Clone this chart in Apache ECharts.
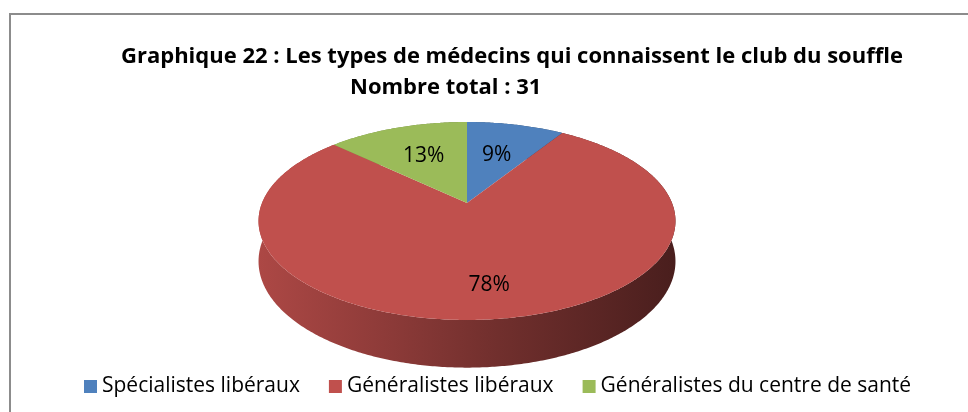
<!DOCTYPE html>
<html>
<head>
<meta charset="utf-8">
<script src="https://cdn.jsdelivr.net/npm/echarts@6/dist/echarts.min.js"></script>
<style>
    html, body { margin: 0; padding: 0; background: #fff; }
    #main { width: 968px; height: 412px; }
</style>
</head>
<body>
<div id="main"></div>
<script>
// data
var categories = ['Spécialistes libéraux', 'Généralistes libéraux', 'Généralistes du centre de santé'];
var percents = [9, 78, 13];
var colors = ['#4f81bd', '#c0504d', '#9bbb59'];
var titleLine1 = 'Graphique 22 : Les types de médecins qui connaissent le club du souffle';
var titleLine2 = 'Nombre total : 31';

// 3d pie geometry (excel look, light perspective)
var cx = 467, cy = 203, rx = 205, ryB = 58.8, persp = -0.1818, depth = 39;
var FONT = '"Open Sans"';

var total = percents.reduce(function (a, b) { return a + b; }, 0);
var starts = [];
var acc = 0;
percents.forEach(function (v) {
    starts.push(acc / total * Math.PI * 2);
    acc += v;
});

// darker shade of a #rrggbb colour, f = 0..1 (kept part)
function shade(hex, f) {
    var c = parseInt(hex.slice(1), 16);
    var r = Math.round(((c >> 16) & 255) * f);
    var g = Math.round(((c >> 8) & 255) * f);
    var b = Math.round((c & 255) * f);
    return 'rgb(' + r + ',' + g + ',' + b + ')';
}

// ang: clockwise from top, radians ; r: 0..1 ; drop: px down (side wall)
function project(ang, r, drop) {
    var u = Math.sin(ang) * r;
    var w = -Math.cos(ang) * r;
    var d = 1 + persp * w;
    return [cx + rx * u / d, (cy + drop + ryB * w) / d];
}

function renderSlice(params, api) {
    var i = params.seriesIndex;
    var val = api.value(0);
    var a0 = starts[i];
    var a1 = a0 + val / total * Math.PI * 2;
    var n = Math.max(2, Math.ceil((a1 - a0) / 0.01));
    var rim = [], low = [];
    for (var k = 0; k <= n; k++) {
        var a = a0 + (a1 - a0) * k / n;
        rim.push(project(a, 1, 0));
        low.push(project(a, 1, depth));
    }
    var base = colors[i];
    var wallFill = new echarts.graphic.LinearGradient(cx - rx - 5, 0, cx + rx + 5, 0, [
        { offset: 0, color: shade(base, 0.9) },
        { offset: 0.3, color: shade(base, 0.74) },
        { offset: 0.55, color: shade(base, 0.6) },
        { offset: 1, color: shade(base, 0.38) }
    ], true);

    var mid = (a0 + a1) / 2;
    var lp = project(mid, 0.55 + 0.25 * val / total, 0);

    return {
        type: 'group',
        children: [{
            type: 'polygon',
            z2: 1,
            shape: { points: rim.concat(low.slice().reverse()) },
            style: { fill: wallFill }
        }, {
            type: 'polygon',
            z2: 10,
            shape: { points: [project(0, 0, 0)].concat(rim) },
            style: { fill: base }
        }, {
            type: 'text',
            z2: 20,
            x: lp[0],
            y: lp[1],
            style: {
                text: val + '%',
                align: 'center',
                verticalAlign: 'middle',
                fill: '#000',
                font: '21px ' + FONT
            }
        }]
    };
}

var chart = echarts.init(document.getElementById('main'));

var series = categories.map(function (name, i) {
    return {
        name: name,
        type: 'custom',
        coordinateSystem: 'none',
        itemStyle: { color: colors[i] },
        renderItem: renderSlice,
        data: [[percents[i]]],
        silent: true
    };
});

chart.setOption({
    animation: false,
    backgroundColor: '#fff',
    title: [{
        text: titleLine1,
        left: 116,
        top: 41,
        textStyle: { fontFamily: FONT, fontSize: 22, fontWeight: 'bold', color: '#000' }
    }, {
        text: titleLine2,
        left: 345,
        top: 72,
        textStyle: { fontFamily: FONT, fontSize: 22, fontWeight: 'bold', color: '#000' }
    }],
    legend: {
        data: categories,
        left: 79,
        top: 371,
        icon: 'rect',
        itemWidth: 13,
        itemHeight: 13,
        itemGap: 29,
        selectedMode: false,
        textStyle: { fontFamily: FONT, fontSize: 21, color: '#000' }
    },
    graphic: [{
        type: 'polyline',
        shape: { points: [[10, 412], [10, 14], [968, 14]] },
        style: { stroke: '#8c8c8c', lineWidth: 2, fill: null }
    }],
    series: series
});
</script>
</body>
</html>
